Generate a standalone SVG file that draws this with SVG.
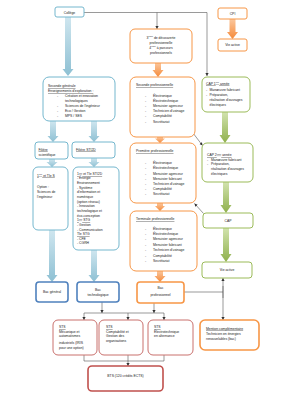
<svg xmlns="http://www.w3.org/2000/svg" width="283" height="400" viewBox="0 0 283 400">
<defs>
<style>
text{font-family:"Liberation Sans",Arial,sans-serif;font-size:3.4px;fill:#1a1a1a}
.c{text-anchor:middle}
.u{text-decoration:underline}
.bl{fill:#fff;stroke:#74b7ce;stroke-width:1}
.or{fill:#fff;stroke:#f79646;stroke-width:1}
.gr{fill:#fff;stroke:#9bbb59;stroke-width:1}
.db{fill:#fff;stroke:#4f81bd;stroke-width:1.6}
.orT{fill:#fff;stroke:#f79646;stroke-width:1.6}
.rd{fill:#fff;stroke:#c9706d;stroke-width:1}
.rdT{fill:#fff;stroke:#c0504d;stroke-width:1.6}
.ln{fill:none;stroke:#555;stroke-width:0.6}
.ba{fill:url(#gB)}
.oa{fill:url(#gO)}
.ga{fill:url(#gG)}
</style>
<linearGradient id="gB" x1="0" y1="0" x2="0" y2="1"><stop offset="0" stop-color="#cfe6ef"/><stop offset="1" stop-color="#8ec0d3"/></linearGradient>
<linearGradient id="gO" x1="0" y1="0" x2="0" y2="1"><stop offset="0" stop-color="#fbc79d"/><stop offset="1" stop-color="#f58a3a"/></linearGradient>
<linearGradient id="gG" x1="0" y1="0" x2="0" y2="1"><stop offset="0" stop-color="#d2e3ae"/><stop offset="1" stop-color="#8fb04c"/></linearGradient>
<marker id="ah" markerWidth="4" markerHeight="4" refX="3" refY="2" orient="auto" markerUnits="userSpaceOnUse"><path d="M0,0.4 L3,2 L0,3.6 Z" fill="#333"/></marker>
</defs>

<g id="connectors">
<!-- block arrows blue -->
<path class="ba" d="M65,17 H71 V69 H73.5 L68,76 L62.5,69 H65 Z"/>
<path class="ba" d="M50,121 H56 V136 H58.5 L53,142 L47.5,136 H50 Z"/>
<path class="ba" d="M91,121 H97 V136 H99.5 L94,142 L88.5,136 H91 Z"/>
<path class="ba" d="M49,159 H55 V162 H57.5 L52,167 L46.5,162 H49 Z"/>
<path class="ba" d="M91,158 H97 V162 H99.5 L94,167 L88.5,162 H91 Z"/>
<path class="ba" d="M49,230 H55 V275 H57.5 L52,282 L46.5,275 H49 Z"/>
<path class="ba" d="M91,250 H97 V275 H99.5 L94,282 L88.5,275 H91 Z"/>
<!-- block arrows orange -->
<path class="oa" d="M155,63 H161 V70 H163.5 L158,77 L152.5,70 H155 Z"/>
<path class="oa" d="M157,137 H163 V138.5 H165 L160,143 L155,138.5 H157 Z"/>
<path class="oa" d="M157,203 H163 V206 H165 L160,211 L155,206 H157 Z"/>
<path class="oa" d="M157,271 H163 V276 H165.5 L160,282 L154.5,276 H157 Z"/>
<path class="oa" d="M229.5,19 H235.5 V32 H238 L232.5,39 L227,32 H229.5 Z"/>
<!-- block arrows green -->
<path class="ga" d="M222,112 H228 V135 H230.5 L225,143 L219.5,135 H222 Z"/>
<path class="ga" d="M223,182 H229 V205 H231.5 L226,213 L220.5,205 H223 Z"/>
<path class="ga" d="M223,228 H229 V254 H231.5 L226,262 L220.5,254 H223 Z"/>
<!-- thin connectors -->
<path class="ln" d="M84,12.5 H207 V76" marker-end="url(#ah)"/>
<path class="ln" d="M157,12.5 V29" marker-end="url(#ah)"/>
<path class="ln" d="M193,133 L202.5,145.5" marker-end="url(#ah)"/>
<path class="ln" d="M203.5,213.5 L194.5,203.5" marker-end="url(#ah)"/>
<path class="ln" d="M102,302 V313" marker-end="url(#ah)"/>
<path class="ln" d="M154,303 V313" marker-end="url(#ah)"/>
<path class="ln" d="M84,313 H164"/>
<path class="ln" d="M84,313 V320" marker-end="url(#ah)"/>
<path class="ln" d="M128,313 V320" marker-end="url(#ah)"/>
<path class="ln" d="M164,313 V320" marker-end="url(#ah)"/>
<path class="ln" d="M84,355 V361 H164 V355"/>
<path class="ln" d="M128,355 V366" marker-end="url(#ah)"/>
<path class="ln" d="M184,292 H223"/>
<path class="ln" d="M223,298 V278" marker-end="url(#ah)"/>
<path class="ln" d="M223,286 V320" marker-end="url(#ah)"/>
</g>

<g id="college">
<rect class="bl" x="55" y="7" width="29" height="10" rx="2"/>
<text class="c" x="69.5" y="13.5">Collège</text>
</g>

<g id="troisieme">
<rect class="or" x="130" y="29" width="62" height="34" rx="5"/>
<text class="c" x="161" y="38.5">3<tspan font-size="2.3px" dy="-1.2">ème</tspan><tspan dy="1.2"> de découverte</tspan></text>
<text class="c" x="161" y="43.5">professionnelle</text>
<text class="c" x="161" y="48.5">4<tspan font-size="2.3px" dy="-1.2">ème</tspan><tspan dy="1.2"> à parcours</tspan></text>
<text class="c" x="161" y="53.5">professionnels</text>
</g>

<g id="cpi">
<rect class="or" x="218" y="8" width="29" height="11" rx="2"/>
<text class="c" x="232.5" y="15">CPI</text>
</g>

<g id="vie-active-1">
<rect class="or" x="218" y="39" width="29" height="12" rx="2"/>
<text class="c" x="232.5" y="46.3">Vie active</text>
</g>

<g id="seconde-generale">
<rect class="bl" x="43" y="77" width="72" height="44" rx="6"/>
<text class="u" x="48" y="87">Seconde générale</text>
<text class="u" x="48" y="92">Enseignements d'exploration :</text>
<text x="57" y="97">-</text><text x="65" y="97">Création et innovation</text>
<text x="65" y="101.5">technologiques</text>
<text x="57" y="107">-</text><text x="65" y="107">Sciences de l'ingénieur</text>
<text x="57" y="112">-</text><text x="65" y="112">Eco / Gestion</text>
<text x="57" y="117">-</text><text x="65" y="117">MPS / SES</text>
</g>

<g id="seconde-pro">
<rect class="or" x="130" y="77" width="65" height="60" rx="6"/>
<text class="u" x="136" y="86">Seconde  professionnelle</text>
<text x="145" y="97">-</text><text x="153" y="97">Électronique</text>
<text x="145" y="102">-</text><text x="153" y="102">Électrotechnique</text>
<text x="145" y="107">-</text><text x="153" y="107">Menuisier agenceur</text>
<text x="145" y="112">-</text><text x="153" y="112">Technicien d'usinage</text>
<text x="145" y="117.3">-</text><text x="153" y="117.3">Comptabilité</text>
<text x="145" y="123">-</text><text x="153" y="123">Secrétariat</text>
</g>

<g id="cap1">
<rect class="gr" x="202" y="77" width="48" height="35" rx="5"/>
<text class="u" x="206" y="84.5">CAP 1<tspan font-size="2.3px" dy="-1.2">ère</tspan><tspan dy="1.2"> année</tspan></text>
<text x="206" y="90.5">-</text><text x="209.5" y="90.5">Manœuvre fabricant</text>
<text x="206" y="96">-</text><text x="209.5" y="96">Préparation,</text>
<text x="209.5" y="100.8">réalisation d'ouvrages</text>
<text x="209.5" y="105.5">électriques</text>
</g>

<g id="filiere-s">
<rect class="bl" x="35" y="142" width="33" height="17" rx="3"/>
<text class="u" x="38.5" y="150.5">Filière</text>
<text x="38.5" y="155.8">scientifique</text>
</g>

<g id="filiere-sti2d">
<rect class="bl" x="72" y="142" width="43" height="16" rx="3"/>
<text class="u" x="76" y="150.5">Filière STI2D</text>
</g>

<g id="premiere-pro">
<rect class="or" x="130" y="143" width="66" height="60" rx="6"/>
<text class="u" x="136" y="152">Première  professionnelle</text>
<text x="145" y="163.8">-</text><text x="153" y="163.8">Électronique</text>
<text x="145" y="169.3">-</text><text x="153" y="169.3">Électrotechnique</text>
<text x="145" y="174.7">-</text><text x="153" y="174.7">Menuisier agenceur</text>
<text x="145" y="180">-</text><text x="153" y="180">Menuisier fabricant</text>
<text x="145" y="185.3">-</text><text x="153" y="185.3">Technicien d'usinage</text>
<text x="145" y="190.3">-</text><text x="153" y="190.3">Comptabilité</text>
<text x="145" y="195.3">-</text><text x="153" y="195.3">Secrétariat</text>
</g>

<g id="cap2">
<rect class="gr" x="202" y="143" width="51" height="39" rx="5"/>
<text class="u" x="207" y="156">CAP 2<tspan font-size="2.3px" dy="-1.2">ème</tspan><tspan dy="1.2"> année</tspan></text>
<text x="207" y="161">-</text><text x="211" y="161">Manœuvre fabricant</text>
<text x="207" y="165.3">-</text><text x="211" y="165.3">Préparation,</text>
<text x="211" y="170.3">réalisation d'ouvrages</text>
<text x="211" y="175">électriques</text>
</g>

<g id="premiere-s">
<rect class="bl" x="33" y="167" width="35" height="63" rx="5"/>
<text class="u" x="37" y="176.5">1<tspan font-size="2.3px" dy="-1.2">ère</tspan><tspan dy="1.2"> et Tle S</tspan></text>
<text x="37" y="188">Option :</text>
<text x="37" y="193">Sciences de</text>
<text x="37" y="198">l'ingénieur</text>
</g>

<g id="premiere-sti2d">
<rect class="bl" x="73" y="167" width="46" height="83" rx="5"/>
<text class="u" x="77" y="175">1<tspan font-size="2.3px" dy="-1.2">ère</tspan><tspan dy="1.2"> et Tle STI2D</tspan></text>
<text x="77" y="179.3">- Énergie</text>
<text x="77" y="184">Environnement</text>
<text x="77" y="188.5">- Système</text>
<text x="77" y="193">d'information et</text>
<text x="77" y="197.8">numérique</text>
<text x="77" y="202.5">(option réseau)</text>
<text x="77" y="207">- Innovation</text>
<text x="77" y="211.8">technologique et</text>
<text x="77" y="216.5">éco-conception</text>
<text class="u" x="77" y="221">1<tspan font-size="2.3px" dy="-1.2">ère</tspan><tspan dy="1.2"> STG</tspan></text>
<text x="77" y="225.8">- Gestion</text>
<text x="77" y="230.5">- Communication</text>
<text class="u" x="77" y="235.3">Tle STG</text>
<text x="77" y="239.5">- CFE</text>
<text x="77" y="244">- CGRH</text>
</g>

<g id="terminale-pro">
<rect class="or" x="130" y="211" width="67" height="60" rx="6"/>
<text class="u" x="136" y="220">Terminale  professionnelle</text>
<text x="145" y="229.8">-</text><text x="153" y="229.8">Électronique</text>
<text x="145" y="235">-</text><text x="153" y="235">Électrotechnique</text>
<text x="145" y="240.3">-</text><text x="153" y="240.3">Menuisier agenceur</text>
<text x="145" y="245.7">-</text><text x="153" y="245.7">Menuisier fabricant</text>
<text x="145" y="251">-</text><text x="153" y="251">Technicien d'usinage</text>
<text x="145" y="256.5">-</text><text x="153" y="256.5">Comptabilité</text>
<text x="145" y="262">-</text><text x="153" y="262">Secrétariat</text>
</g>

<g id="cap">
<rect class="gr" x="203" y="213" width="50" height="15" rx="3"/>
<text class="c" x="228" y="221.8">CAP</text>
</g>

<g id="vie-active-2">
<rect class="gr" x="202" y="262" width="50" height="16" rx="3"/>
<text class="c" x="227" y="271.3">Vie active</text>
</g>

<g id="bac-general">
<rect class="db" x="36" y="282" width="32" height="20" rx="3"/>
<text class="c" x="52" y="293">Bac général</text>
</g>

<g id="bac-techno">
<rect class="db" x="77" y="282" width="42" height="20" rx="3"/>
<text class="c" x="98" y="290.5">Bac</text>
<text class="c" x="98" y="296">technologique</text>
</g>

<g id="bac-pro">
<rect class="orT" x="137" y="282" width="47" height="21" rx="3"/>
<text class="c" x="160.5" y="288.5">Bac</text>
<text class="c" x="160.5" y="295.5">professionnel</text>
</g>

<g id="sts-mai">
<rect class="rd" x="53" y="320" width="44" height="35" rx="5"/>
<text class="u" x="59" y="328">STS</text>
<text x="59" y="332.5">Mécanique et</text>
<text x="59" y="337">automatismes</text>
<text x="59" y="343.5">industriels (IRIS</text>
<text x="59" y="348.5">pour une option)</text>
</g>

<g id="sts-cgo">
<rect class="rd" x="99" y="320" width="44" height="35" rx="5"/>
<text class="u" x="106" y="328">STS</text>
<text x="106" y="332.5">Comptabilité et</text>
<text x="106" y="337">Gestion des</text>
<text x="106" y="342">organisations</text>
</g>

<g id="sts-elec">
<rect class="rd" x="148" y="320" width="45" height="35" rx="5"/>
<text class="u" x="154" y="328">STS</text>
<text x="154" y="332.5">Électrotechnique</text>
<text x="154" y="337">en alternance</text>
</g>

<g id="mention">
<rect class="orT" x="200" y="320" width="59" height="30" rx="5"/>
<text class="u" x="206" y="329.5">Mention complémentaire</text>
<text x="206" y="334.8">Technicien en énergies</text>
<text x="206" y="340.3">renouvelables (bac)</text>
</g>

<g id="bts">
<rect class="rdT" x="88" y="366" width="75" height="25" rx="4"/>
<text class="c" x="125.5" y="376.5">BTS (120 crédits ECTS)</text>
</g>
</svg>
